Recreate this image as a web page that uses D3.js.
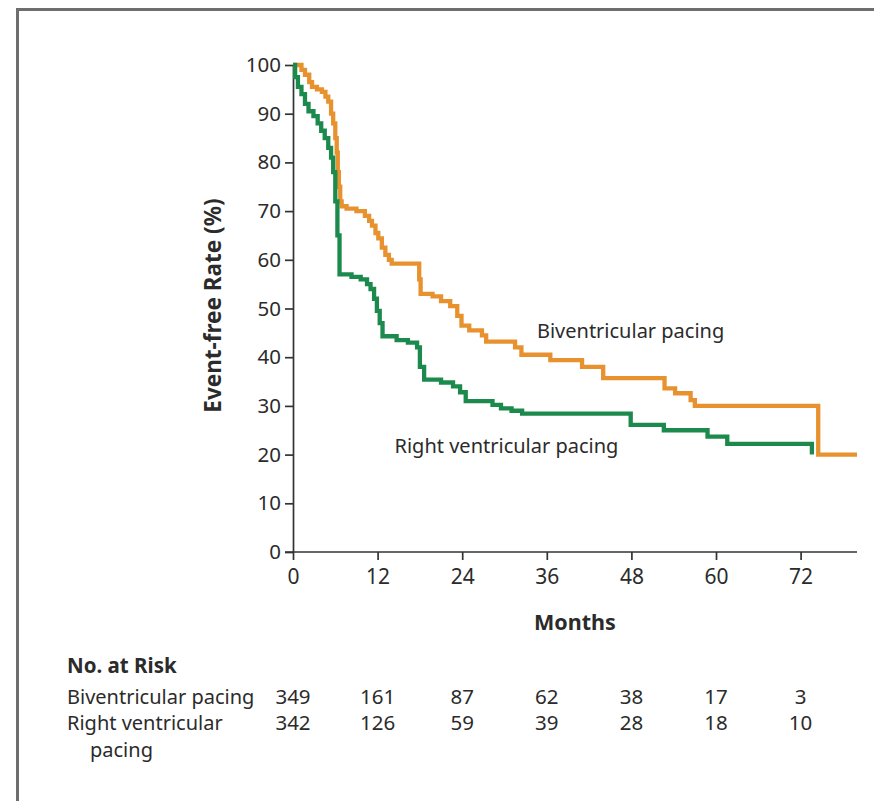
<!DOCTYPE html>
<html>
<head>
<meta charset="utf-8">
<script src="https://cdn.jsdelivr.net/npm/d3@7"></script>
<style>
  body { margin: 0; background: #fff; }
  text { font-family: "Noto Sans", sans-serif; fill: #2b2b2b; }
</style>
</head>
<body>
<div id="chart-container"></div>
<script>
// data
const monthTicks = [0, 12, 24, 36, 48, 60, 72];
const rateTicks = [0, 10, 20, 30, 40, 50, 60, 70, 80, 90, 100];

const biTime = [0, 1.2, 1.7, 2.3, 2.7, 3.4, 4.1, 4.6, 5.0, 5.4, 5.7, 6.0, 6.2, 6.35, 6.5, 6.7, 6.9, 7.6, 9.0, 10.2,
  10.8, 11.2, 11.7, 12.1, 12.6, 13.1, 13.6, 14.0, 17.9, 18.1, 19.8, 21.0, 22.3, 23.3, 23.9, 25.0, 26.8, 27.4, 31.5, 32.4,
  36.5, 41.0, 44.0, 52.7, 54.2, 56.4, 57.0, 74.5, 80];
const biRate = [100, 99, 98, 96.5, 95.5, 95, 94.5, 93.5, 92.5, 90, 88, 85, 82, 78, 75, 72, 71, 70.5, 70, 69,
  68, 67, 65.5, 64.4, 62.5, 61, 60, 59.2, 56, 53, 52.5, 51.5, 50.5, 48.5, 46.5, 45.5, 44.5, 43.2, 42, 40.5,
  39.4, 38, 35.7, 33.6, 32.6, 31.2, 30, 20, 20];

const rvTime = [0, 0.3, 0.7, 1.2, 1.7, 2.2, 2.9, 3.5, 4.0, 4.5, 5.0, 5.4, 5.7, 6.0, 6.3, 6.6, 8.3, 9.6, 10.5, 11.0,
  11.5, 11.9, 12.3, 12.7, 14.7, 16.3, 17.6, 18.0, 18.6, 21.0, 22.7, 23.7, 24.5, 28.3, 29.5, 31.0, 32.5, 47.9, 52.6, 58.8,
  61.6, 73.6];
const rvRate = [100, 97.5, 95.5, 94, 92, 90.5, 89.5, 88, 86.5, 85, 83, 81, 78, 72, 65, 57, 56.5, 56, 55, 54,
  52, 49.5, 47, 44.3, 43.5, 43, 42, 38, 35.4, 34.8, 34, 32.8, 31, 30.2, 29.5, 29, 28.4, 26.1, 25, 23.7,
  22.2, 20];

const biAtRisk = [349, 161, 87, 62, 38, 17, 3];
const rvAtRisk = [342, 126, 59, 39, 28, 18, 10];

// dimensions
const W = 874, H = 801;
const margin = {top: 65, left: 293};
const width = 564;
const height = 487;

const x = d3.scaleLinear().domain([0, 80]).range([0, width]);
const y = d3.scaleLinear().domain([0, 100]).range([height, 0]);

const svgRoot = d3.select("#chart-container")
  .append("svg")
  .attr("width", W)
  .attr("height", H);

// grey frame (left and top)
svgRoot.append("path")
  .attr("d", `M17.5,${H} L17.5,9.5 L${W},9.5`)
  .attr("fill", "none")
  .attr("stroke", "#6e6e6e")
  .attr("stroke-width", 3);

const svg = svgRoot.append("g")
  .attr("transform", `translate(${margin.left},${margin.top})`);

// axes
const yAxis = svg.append("g")
  .call(d3.axisLeft(y).tickValues(rateTicks).tickSize(8).tickSizeOuter(0).tickPadding(4));

const xAxis = svg.append("g")
  .attr("transform", `translate(0,${height})`)
  .call(d3.axisBottom(x).tickValues(monthTicks).tickSize(8).tickSizeOuter(0).tickPadding(9));

[xAxis, yAxis].forEach(a => {
  a.selectAll("path, line").attr("stroke", "#333").attr("stroke-width", 1.7);
  a.selectAll("text").style("font-family", "Noto Sans").style("fill", "#2b2b2b");
});
yAxis.selectAll("text").style("font-size", "20.5px");
xAxis.selectAll("text").style("font-size", "21px");
// x axis reaches a little left of the origin
xAxis.select(".domain").attr("d", `M-8,0H${width}`);

// axis titles
svg.append("text")
  .attr("transform", `translate(-72,${y(50) - 3}) rotate(-90)`)
  .attr("text-anchor", "middle")
  .style("font-size", "22.5px")
  .style("font-weight", "bold")
  .text("Event-free Rate (%)");

svg.append("text")
  .attr("x", x(40))
  .attr("y", height + 78)
  .attr("text-anchor", "middle")
  .style("font-size", "21.5px")
  .style("font-weight", "bold")
  .text("Months");

// step curves
const line = d3.line()
  .x(d => x(d[0]))
  .y(d => y(d[1]))
  .curve(d3.curveStepAfter);

svg.append("path")
  .datum(d3.zip(biTime, biRate))
  .attr("fill", "none")
  .attr("stroke", "#e8922f")
  .attr("stroke-width", 4.3)
  .attr("d", line);

svg.append("path")
  .datum(d3.zip(rvTime, rvRate))
  .attr("fill", "none")
  .attr("stroke", "#1b8a4c")
  .attr("stroke-width", 4.3)
  .attr("d", line);

// curve labels
svg.append("text")
  .attr("x", x(34.6))
  .attr("y", y(44))
  .style("font-size", "20px")
  .text("Biventricular pacing");

svg.append("text")
  .attr("x", x(14.4))
  .attr("y", y(20.4))
  .style("font-size", "20px")
  .text("Right ventricular pacing");

// number at risk table
const table = svgRoot.append("g");
table.append("text")
  .attr("x", 67).attr("y", 673)
  .style("font-size", "20.5px")
  .style("font-weight", "bold")
  .text("No. at Risk");

table.append("text")
  .attr("x", 67).attr("y", 704)
  .style("font-size", "20px")
  .text("Biventricular pacing");

table.append("text")
  .attr("x", 67).attr("y", 730)
  .style("font-size", "20px")
  .text("Right ventricular");

table.append("text")
  .attr("x", 90).attr("y", 757)
  .style("font-size", "20px")
  .text("pacing");

[[biAtRisk, 704], [rvAtRisk, 730]].forEach(([vals, yy]) => {
  table.selectAll(null)
    .data(vals)
    .enter()
    .append("text")
    .attr("x", (d, i) => margin.left + x(monthTicks[i]))
    .attr("y", yy)
    .attr("text-anchor", "middle")
    .style("font-size", "20.5px")
    .text(d => d);
});
</script>
</body>
</html>
